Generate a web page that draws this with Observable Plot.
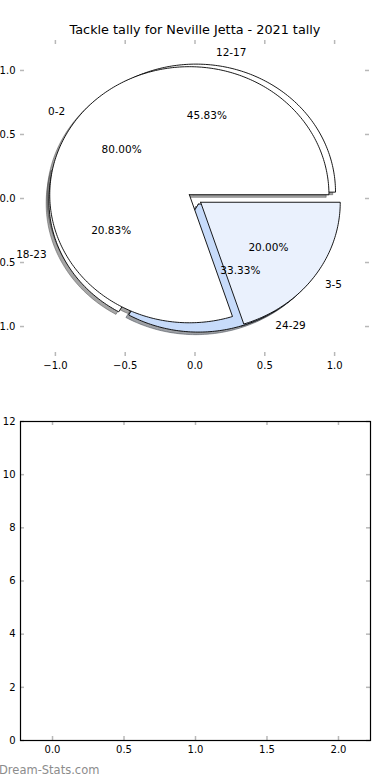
<!DOCTYPE html>
<html><head><meta charset="utf-8">
<script src="https://cdn.jsdelivr.net/npm/d3@7"></script>
<script src="https://cdn.jsdelivr.net/npm/@observablehq/plot@0.6"></script>
<style>
body{margin:0;background:#fff;font-family:"DejaVu Sans",sans-serif;}
#wrap{width:390px;height:780px;overflow:hidden;position:relative;background:#fff}
#title{height:40px;box-sizing:border-box;padding-top:22px;text-align:center;font-size:12.8px;line-height:16px;color:#000;white-space:nowrap}
#wm{position:absolute;left:-1px;top:763px;font-size:11.5px;line-height:14px;color:#8c8c8c;white-space:nowrap}
svg{display:block;overflow:visible}
</style></head><body>
<div id="wrap">
  <div id="title"></div>
  <div id="top"></div>
  <div id="bottom"></div>
  <div id="wm"></div>
</div>
<script>
const chartTitle = "Tackle tally for Neville Jetta - 2021 tally";
const watermark = "Dream-Stats.com";

// Pie A (drawn first): age groups and tallies
const groupsA = ["12-17", "18-23", "24-29"];
const tallyA = [11, 5, 8];
// Pie B (drawn on top)
const groupsB = ["0-2", "3-5"];
const tallyB = [4, 1];

// tick values
const pieXTicks = [-1, -0.5, 0, 0.5, 1];
const pieYTicks = [-1, -0.5, 0, 0.5, 1];
const barXTicks = [0, 0.5, 1, 1.5, 2];
const barYTicks = [0, 2, 4, 6, 8, 10, 12];

// styles
const colorsA = ["#ffffff", "#ffffff", "#c7dbfa"];
const colorsB = ["#ffffff", "#eaf1fd"];
const EXPLODE = 0.05, SHADOW = 0.02, LABEL_R = 1.1, PCT_R = 0.6;
const TICK_COLOR = "#b8b8b8";

document.getElementById("title").textContent = chartTitle;
document.getElementById("wm").textContent = watermark;

function wedges(labels, values, colors) {
  const total = d3.sum(values);
  let a = 0;
  return labels.map((label, i) => {
    const frac = values[i] / total;
    const t1 = a, t2 = a + frac * 2 * Math.PI; a = t2;
    const m = (t1 + t2) / 2;
    const cx = EXPLODE * Math.cos(m), cy = EXPLODE * Math.sin(m);
    const n = Math.max(2, Math.ceil((t2 - t1) / (Math.PI / 180)));
    const pts = [[cx, cy]];
    for (let k = 0; k <= n; k++) {
      const t = t1 + (t2 - t1) * k / n;
      pts.push([cx + Math.cos(t), cy + Math.sin(t)]);
    }
    pts.push([cx, cy]);
    return {
      label, pct: (100 * frac).toFixed(2) + "%", color: colors[i], pts,
      lx: cx + LABEL_R * Math.cos(m), ly: cy + LABEL_R * Math.sin(m),
      px: cx + PCT_R * Math.cos(m), py: cy + PCT_R * Math.sin(m)
    };
  });
}

const A = wedges(groupsA, tallyA, colorsA);
const B = wedges(groupsB, tallyB, colorsB);
const all = [...A, ...B];
const shade = c => { const r = d3.rgb(c); return d3.rgb(r.r * 0.3, r.g * 0.3, r.b * 0.3).formatHex(); };

const topW = 390, topH = 350, tm = {top: 0, right: 21, bottom: 34, left: 20};
const tIW = topW - tm.left - tm.right, tIH = topH - tm.top - tm.bottom;

const topPlot = Plot.plot({
  width: topW, height: topH,
  marginTop: tm.top, marginRight: tm.right, marginBottom: tm.bottom, marginLeft: tm.left,
  style: {fontFamily: "DejaVu Sans", fontSize: "10px", background: "transparent", overflow: "visible"},
  x: {domain: [-1.25, 1.25]},
  y: {domain: [-1.234, 1.234]},
  marks: [
    // shadows
    ...all.map(w => Plot.line(w.pts, {
      x: p => p[0] - SHADOW, y: p => p[1] - SHADOW,
      fill: shade(w.color), fillOpacity: 0.5,
      stroke: shade(w.color), strokeOpacity: 0.5, strokeWidth: 1, curve: "linear"
    })),
    // wedges
    ...all.map(w => Plot.line(w.pts, {
      x: p => p[0], y: p => p[1], fill: w.color,
      stroke: "black", strokeWidth: 0.9, strokeLinejoin: "miter", curve: "linear"
    })),
    // tick marks (inward, gray)
    Plot.tickX(pieXTicks, {x: d => d, insetBottom: tIH - 4, stroke: TICK_COLOR, strokeWidth: 1.5}),
    Plot.tickX(pieXTicks, {x: d => d, insetTop: tIH - 4, stroke: TICK_COLOR, strokeWidth: 1.5}),
    Plot.tickY(pieYTicks, {y: d => d, insetRight: tIW - 4, stroke: TICK_COLOR, strokeWidth: 1.5}),
    Plot.tickY(pieYTicks, {y: d => d, insetLeft: tIW - 4, stroke: TICK_COLOR, strokeWidth: 1.5}),
    Plot.axisX({ticks: pieXTicks, tickSize: 0, tickPadding: 5, tickFormat: d3.format(".1f"), label: null, fontSize: 10}),
    Plot.axisY({ticks: pieYTicks, tickSize: 0, tickPadding: 5, tickFormat: d3.format(".1f"), label: null, fontSize: 10}),
    // labels
    Plot.text(all.filter(w => w.lx > 0), {x: "lx", y: "ly", text: "label", textAnchor: "start", fontSize: 10.5, fill: "black"}),
    Plot.text(all.filter(w => w.lx <= 0), {x: "lx", y: "ly", text: "label", textAnchor: "end", fontSize: 10.5, fill: "black"}),
    Plot.text(all, {x: "px", y: "py", text: "pct", textAnchor: "middle", fontSize: 10.5, fill: "black"})
  ]
});
document.getElementById("top").append(topPlot);

const botW = 390, botH = 370, bm = {top: 31, right: 20, bottom: 20, left: 20};
const bIW = botW - bm.left - bm.right, bIH = botH - bm.top - bm.bottom;

const bottomPlot = Plot.plot({
  width: botW, height: botH,
  marginTop: bm.top, marginRight: bm.right, marginBottom: bm.bottom, marginLeft: bm.left,
  style: {fontFamily: "DejaVu Sans", fontSize: "10px", background: "transparent", overflow: "visible"},
  x: {domain: [-0.224, 2.224]},
  y: {domain: [0, 12]},
  marks: [
    Plot.tickX(barXTicks, {x: d => d, insetBottom: bIH - 4, stroke: TICK_COLOR, strokeWidth: 1.5}),
    Plot.tickX(barXTicks, {x: d => d, insetTop: bIH - 4, stroke: TICK_COLOR, strokeWidth: 1.5}),
    Plot.tickY(barYTicks, {y: d => d, insetRight: bIW - 4, stroke: TICK_COLOR, strokeWidth: 1.5}),
    Plot.tickY(barYTicks, {y: d => d, insetLeft: bIW - 4, stroke: TICK_COLOR, strokeWidth: 1.5}),
    Plot.frame({stroke: "black", strokeWidth: 1.2}),
    Plot.axisX({ticks: barXTicks, tickSize: 0, tickPadding: 5, tickFormat: d3.format(".1f"), label: null, fontSize: 10}),
    Plot.axisY({ticks: barYTicks, tickSize: 0, tickPadding: 5, tickFormat: d3.format("d"), label: null, fontSize: 10})
  ]
});
document.getElementById("bottom").append(bottomPlot);
</script>
</body></html>
